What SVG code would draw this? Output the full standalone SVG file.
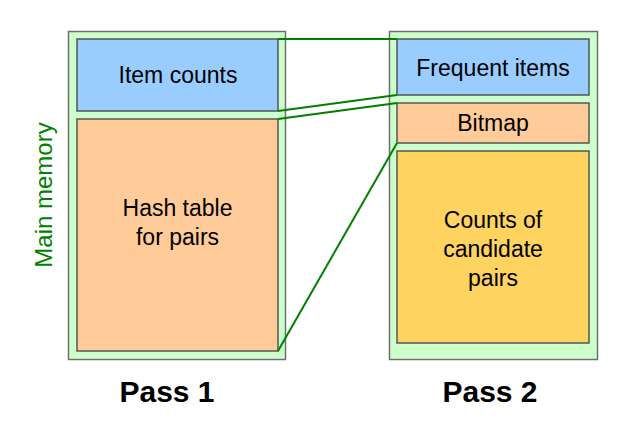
<svg xmlns="http://www.w3.org/2000/svg" width="621" height="437" viewBox="0 0 621 437">
<style>
.outer{fill:#ccffcc;stroke:#707070;stroke-width:1.5}
.box{stroke:#555;stroke-width:1.5}
.blue{fill:#99ccff}
.orange{fill:#ffcc99}
.yellow{fill:#ffd35f}
.lbl{font-family:"Liberation Sans",Arial,sans-serif;font-size:23px;fill:#000;text-anchor:middle}
.pass{font-family:"Liberation Sans",Arial,sans-serif;font-size:30px;font-weight:bold;fill:#000;text-anchor:middle}
.conn{stroke:#008000;stroke-width:2;fill:none}
</style>
<rect width="621" height="437" fill="#fff"/>
<g id="pass1-memory">
<rect class="outer" x="68.5" y="31.5" width="217" height="328"/>
</g>
<g id="pass2-memory">
<rect class="outer" x="389.5" y="31.5" width="208" height="328"/>
</g>
<g id="item-counts">
<rect class="box blue" x="77" y="39" width="201" height="72"/>
<text class="lbl" x="178" y="83">Item counts</text>
</g>
<g id="hash-table">
<rect class="box orange" x="77" y="119" width="201" height="232"/>
<text class="lbl" x="177.5" y="216">Hash table</text>
<text class="lbl" x="177.5" y="245">for pairs</text>
</g>
<g id="frequent-items">
<rect class="box blue" x="397" y="39" width="192" height="56"/>
<text class="lbl" x="493" y="76">Frequent items</text>
</g>
<g id="bitmap">
<rect class="box orange" x="397" y="103" width="192" height="40"/>
<text class="lbl" x="493" y="131">Bitmap</text>
</g>
<g id="candidate-counts">
<rect class="box yellow" x="397" y="151" width="192" height="192"/>
<text class="lbl" x="493" y="228">Counts of</text>
<text class="lbl" x="493" y="257">candidate</text>
<text class="lbl" x="493" y="286">pairs</text>
</g>
<g id="connectors">
<line class="conn" x1="278" y1="39" x2="397" y2="39"/>
<line class="conn" x1="278" y1="111" x2="397" y2="95"/>
<line class="conn" x1="278" y1="119" x2="397" y2="103"/>
<line class="conn" x1="278" y1="351" x2="397" y2="143"/>
</g>
<text class="lbl" transform="translate(52,195) rotate(-90)" style="fill:#008000;font-size:24px">Main memory</text>
<text class="pass" x="167" y="402">Pass 1</text>
<text class="pass" x="490" y="402">Pass 2</text>
</svg>
